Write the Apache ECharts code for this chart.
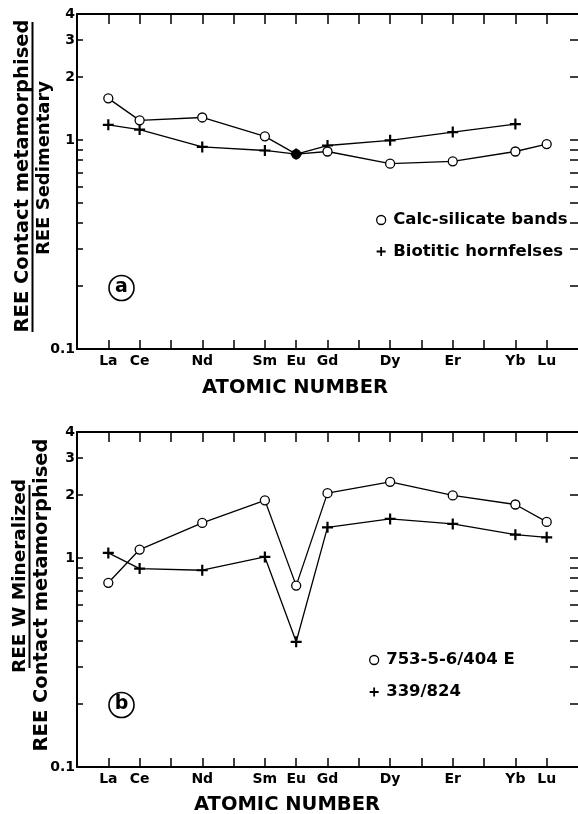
<!DOCTYPE html>
<html>
<head>
<meta charset="utf-8">
<script src="https://cdn.jsdelivr.net/npm/echarts@6/dist/echarts.min.js"></script>
<style>html,body{margin:0;padding:0;background:#fff;}#c{width:578px;height:814px;}</style>
</head>
<body>
<div id="c"></div>
<script>
// ---- data ----
const atomicNumbers = [57, 58, 60, 62, 63, 64, 66, 68, 70, 71];
const elements = ['La', 'Ce', 'Nd', 'Sm', 'Eu', 'Gd', 'Dy', 'Er', 'Yb', 'Lu'];
const tickNumbers = [57, 58, 59, 60, 61, 62, 63, 64, 65, 66, 67, 68, 69, 70, 71];
const yTickValues = [0.1, 0.2, 0.3, 0.4, 0.5, 0.6, 0.7, 0.8, 0.9, 1, 2, 3, 4];
const yLabelValues = [0.1, 1, 2, 3, 4];

// panel (a)
const calcSilicate = [1.58, 1.24, 1.28, 1.04, 0.855, 0.88, 0.77, 0.79, 0.88, 0.955];
const biotitic = [1.18, 1.12, 0.925, 0.89, 0.855, 0.94, 0.995, 1.09, 1.19, null];
// panel (b)
const sample753 = [0.76, 1.096, 1.47, 1.885, 0.737, 2.04, 2.31, 1.99, 1.80, 1.486];
const sample339 = [1.056, 0.889, 0.873, 1.011, 0.397, 1.40, 1.536, 1.453, 1.292, 1.254];

const namesA = ['Calc-silicate bands', 'Biotitic hornfelses'];
const namesB = ['753-5-6/404 E', '339/824'];

// ---- helpers ----
const FONT = '"DejaVu Sans", sans-serif';
const PLUS = 'path://M4,0H6V4H10V6H6V10H4V6H0V4H4Z';
function pairs(vals) {
  const out = [];
  vals.forEach((v, i) => { if (v != null) out.push([atomicNumbers[i], v]); });
  return out;
}
const symMap = {};
atomicNumbers.forEach((n, i) => symMap[n] = elements[i]);

function xAxes(gridIndex) {
  return [
    {
      type: 'value', gridIndex, position: 'bottom', min: 56, max: 72,
      axisLine: { show: true, lineStyle: { color: '#000', width: 2 } },
      axisTick: { show: true, inside: true, length: 9, customValues: tickNumbers, lineStyle: { color: '#000', width: 1.5 } },
      axisLabel: { show: true, customValues: atomicNumbers, formatter: v => symMap[Math.round(v)] || '',
        color: '#000', fontFamily: FONT, fontWeight: 'bold', fontSize: 14, margin: 5 },
      splitLine: { show: false }
    },
    {
      type: 'value', gridIndex, position: 'top', min: 56, max: 72,
      axisLine: { show: true, lineStyle: { color: '#000', width: 2 } },
      axisTick: { show: true, inside: true, length: 10, customValues: tickNumbers, lineStyle: { color: '#000', width: 1.5 } },
      axisLabel: { show: false },
      splitLine: { show: false }
    }
  ];
}
function fmtY(v) {
  const r = Math.round(v * 10) / 10;
  return r < 1 ? r.toFixed(1) : String(Math.round(r));
}
function yAxes(gridIndex) {
  return [
    {
      type: 'log', logBase: 10, gridIndex, position: 'left', min: 0.1, max: 4,
      axisLine: { show: true, lineStyle: { color: '#000', width: 2 } },
      axisTick: { show: true, inside: true, length: 6, customValues: yTickValues, lineStyle: { color: '#000', width: 1.5 } },
      axisLabel: { show: true, customValues: yLabelValues, formatter: fmtY,
        color: '#000', fontFamily: FONT, fontWeight: 'bold', fontSize: 14, margin: 2 },
      splitLine: { show: false }, minorTick: { show: false }
    },
    {
      type: 'log', logBase: 10, gridIndex, position: 'right', min: 0.1, max: 4,
      axisLine: { show: false },
      axisTick: { show: true, inside: true, length: 8, customValues: yTickValues, lineStyle: { color: '#000', width: 1.5 } },
      axisLabel: { show: false },
      splitLine: { show: false }
    }
  ];
}
function circleSeries(name, vals, xi, yi, filledIndex) {
  const data = pairs(vals).map((p, i) => (i === filledIndex ? { value: p, itemStyle: { color: '#000' } } : p));
  return {
    name, type: 'line', xAxisIndex: xi, yAxisIndex: yi, data, z: 4,
    symbol: 'circle', symbolSize: 9,
    itemStyle: { color: '#fff', borderColor: '#000', borderWidth: 1.3 },
    lineStyle: { color: '#000', width: 1.3 }
  };
}
function plusSeries(name, vals, xi, yi) {
  return {
    name, type: 'line', xAxisIndex: xi, yAxisIndex: yi, data: pairs(vals), z: 3,
    symbol: PLUS, symbolSize: 11,
    itemStyle: { color: '#000' },
    lineStyle: { color: '#000', width: 1.3 }
  };
}
function legend(names, left, top, gap) {
  return {
    orient: 'vertical', left, top, itemWidth: 14, itemHeight: 9, itemGap: gap,
    selectedMode: false,
    textStyle: { color: '#000', fontFamily: FONT, fontWeight: 'bold', fontSize: 16.5, lineHeight: 18 },
    data: [
      { name: names[0], icon: 'circle', itemStyle: { color: '#fff', borderColor: '#000', borderWidth: 1.3 } },
      { name: names[1], icon: PLUS, itemStyle: { color: '#000', borderWidth: 0 } }
    ]
  };
}
function rotText(text, x, y, size) {
  return { type: 'text', x, y, rotation: Math.PI / 2,
    style: { text, fill: '#000', font: 'bold ' + size + 'px ' + FONT,
      textAlign: 'center', textVerticalAlign: 'middle', align: 'center', verticalAlign: 'middle' } };
}
function hText(text, x, y, size) {
  return { type: 'text', x, y,
    style: { text, fill: '#000', font: 'bold ' + size + 'px ' + FONT,
      textAlign: 'center', textVerticalAlign: 'middle', align: 'center', verticalAlign: 'middle' } };
}
function vLine(x, y1, y2) {
  return { type: 'line', shape: { x1: x, y1, x2: x, y2 }, style: { stroke: '#000', lineWidth: 2 } };
}
function circled(letter, cx, cy) {
  return [
    { type: 'circle', shape: { cx, cy, r: 12.5 }, style: { fill: 'none', stroke: '#000', lineWidth: 1.6 } },
    hText(letter, cx, cy - 1, 19)
  ];
}

const option = {
  animation: false,
  backgroundColor: '#fff',
  grid: [
    { left: 77, top: 14, width: 503, height: 335 },
    { left: 77, top: 432, width: 503, height: 335 }
  ],
  xAxis: [...xAxes(0), ...xAxes(1)],
  yAxis: [...yAxes(0), ...yAxes(1)],
  legend: [legend(namesA, 371, 206, 13.5), legend(namesB, 364, 646, 14)],
  series: [
    plusSeries(namesA[1], biotitic, 0, 0),
    circleSeries(namesA[0], calcSilicate, 0, 0, 4),
    plusSeries(namesB[1], sample339, 2, 2),
    circleSeries(namesB[0], sample753, 2, 2, -1)
  ],
  graphic: [
    rotText('REE Contact metamorphised', 23, 176, 19.5),
    vLine(32.5, 22, 332),
    rotText('REE Sedimentary', 44, 168, 18),
    hText('ATOMIC NUMBER', 295, 388, 19.5),
    ...circled('a', 121.5, 288),
    rotText('REE W Mineralized', 20, 576, 18.5),
    vLine(29.5, 485, 668),
    rotText('REE Contact metamorphised', 42, 595, 19.5),
    hText('ATOMIC NUMBER', 287, 805, 19.5),
    ...circled('b', 121.5, 705)
  ]
};
const chart = echarts.init(document.getElementById('c'), null, { renderer: 'canvas' });
chart.setOption(option);
</script>
</body>
</html>
